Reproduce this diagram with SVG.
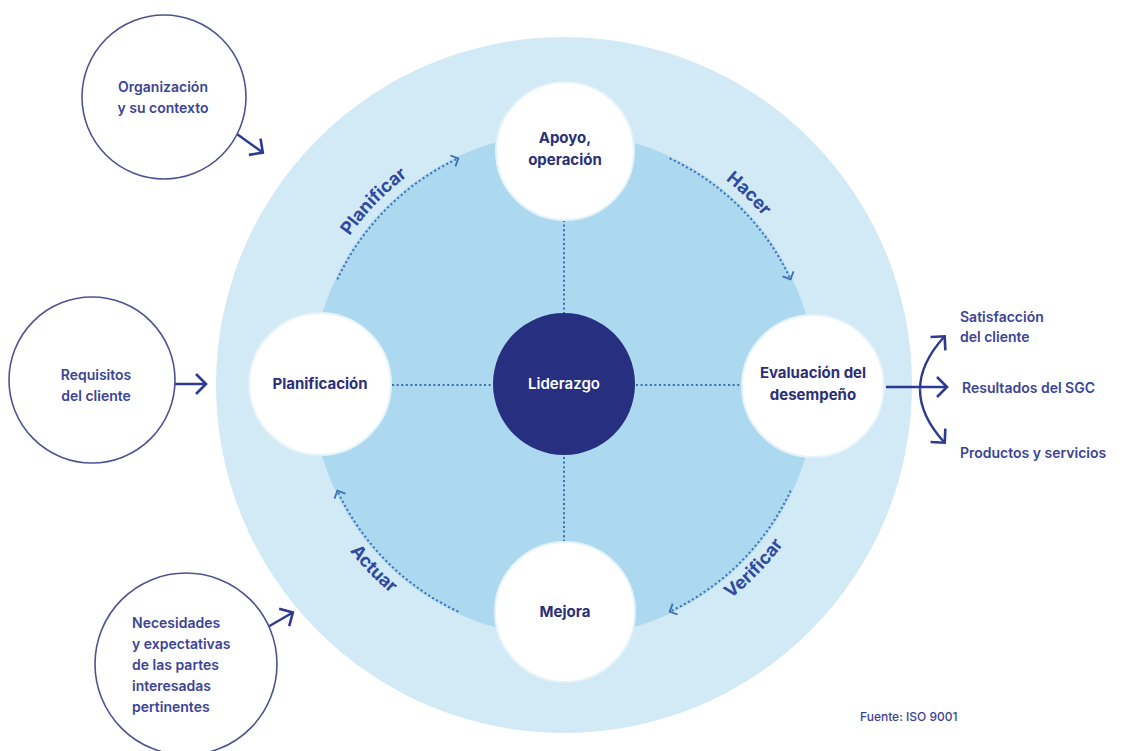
<svg xmlns="http://www.w3.org/2000/svg" width="1129" height="751" viewBox="0 0 1129 751">
<defs>
<style>
.ext{fill:#fff;stroke:#4c5390;stroke-width:1.6}
.node{fill:#fff;stroke:#e4f2fa;stroke-width:2}
.nt{font-family:Inter,"Noto Sans",sans-serif;font-weight:700;font-size:15px;fill:#2b2f78;text-anchor:middle}
.et{font-family:Inter,"Noto Sans",sans-serif;font-weight:600;font-size:14px;fill:#3b4496}
.cyc{font-family:Inter,"Noto Sans",sans-serif;font-weight:700;font-size:18px;fill:#2f4aa0}
.dot{fill:none;stroke:#3c6fb5;stroke-width:2;stroke-dasharray:2 2.6}
.arr{fill:none;stroke:#2c3a8f;stroke-width:2.4}
</style>
<marker id="ch" markerUnits="userSpaceOnUse" markerWidth="20" markerHeight="20" refX="10" refY="10" orient="auto" viewBox="0 0 20 20">
<path d="M4,4 L10,10 L4,16" fill="none" stroke="#3c6fb5" stroke-width="1.8"/>
</marker>
<marker id="ah" markerUnits="userSpaceOnUse" markerWidth="30" markerHeight="30" refX="15" refY="15" orient="auto" viewBox="0 0 30 30">
<path d="M6,5 L16,15 L6,25" fill="none" stroke="#2c3a8f" stroke-width="2.6"/>
</marker>
<path id="pPlan" d="M303.6,366.8 A261,261 0 0 1 536.7,125.4"/>
<path id="pHac" d="M582.2,124.6 A261,261 0 0 1 823.6,357.7"/>
<path id="pVer" d="M592.3,654.5 A271,271 0 0 0 834.3,403.9"/>
<path id="pAct" d="M293.7,403.9 A271,271 0 0 0 535.7,654.5"/>
</defs>
<rect width="1129" height="751" fill="#fff"/>
<g id="background">
<circle cx="564" cy="385" r="348" fill="#d2eaf6"/>
<circle cx="564" cy="385" r="252" fill="#acd9ef"/>
</g>
<g id="connectors">
<line class="dot" x1="392" y1="385" x2="493" y2="385"/>
<line class="dot" x1="636" y1="385" x2="742" y2="385"/>
<line class="dot" x1="564" y1="220" x2="564" y2="313"/>
<line class="dot" x1="564" y1="457" x2="564" y2="542"/>
<path class="dot" d="M337.4,279.3 A250,250 0 0 1 458.3,158.4" marker-end="url(#ch)"/>
<path class="dot" d="M669.7,158.4 A250,250 0 0 1 790.6,279.3" marker-end="url(#ch)"/>
<path class="dot" d="M790.6,490.7 A250,250 0 0 1 669.7,611.6" marker-end="url(#ch)"/>
<path class="dot" d="M458.3,611.6 A250,250 0 0 1 337.4,490.7" marker-end="url(#ch)"/>
<line class="arr" x1="230" y1="129" x2="262" y2="152" marker-end="url(#ah)"/>
<line class="arr" x1="165" y1="384" x2="205" y2="384" marker-end="url(#ah)"/>
<line class="arr" x1="259" y1="632" x2="292" y2="613" marker-end="url(#ah)"/>
<line class="arr" x1="886" y1="387" x2="946" y2="387" marker-end="url(#ah)"/>
<path class="arr" d="M920,389.5 Q920,363.5 944,337" marker-end="url(#ah)"/>
<path class="arr" d="M920,389.5 Q920,415.5 944,442" marker-end="url(#ah)"/>
</g>
<g id="cycle-labels">
<text class="cyc"><textPath href="#pPlan" startOffset="50%" text-anchor="middle">Planificar</textPath></text>
<text class="cyc"><textPath href="#pHac" startOffset="50%" text-anchor="middle">Hacer</textPath></text>
<text class="cyc"><textPath href="#pVer" startOffset="50%" text-anchor="middle">Verificar</textPath></text>
<text class="cyc"><textPath href="#pAct" startOffset="50%" text-anchor="middle">Actuar</textPath></text>
</g>
<g id="node-apoyo">
<circle class="node" cx="565" cy="151" r="69"/>
<text class="nt" x="565" y="143">Apoyo,</text>
<text class="nt" x="565" y="165">operación</text>
</g>
<g id="node-planificacion">
<circle class="node" cx="320" cy="384" r="71"/>
<text class="nt" x="320" y="389">Planificación</text>
</g>
<g id="node-evaluacion">
<circle class="node" cx="813" cy="386" r="71"/>
<text class="nt" x="813" y="378">Evaluación del</text>
<text class="nt" x="813" y="400">desempeño</text>
</g>
<g id="node-mejora">
<circle class="node" cx="565" cy="612" r="70"/>
<text class="nt" x="565" y="617">Mejora</text>
</g>
<g id="node-liderazgo">
<circle cx="564" cy="384" r="71" fill="#262f80"/>
<text class="nt" x="564" y="389" style="fill:#fff;font-weight:600">Liderazgo</text>
</g>
<g id="ext-organizacion">
<circle class="ext" cx="164" cy="97" r="82"/>
<text class="et" x="163" y="92" text-anchor="middle">Organización</text>
<text class="et" x="163" y="113" text-anchor="middle">y su contexto</text>
</g>
<g id="ext-requisitos">
<circle class="ext" cx="92" cy="380" r="83"/>
<text class="et" x="96" y="380" text-anchor="middle">Requisitos</text>
<text class="et" x="96" y="401" text-anchor="middle">del cliente</text>
</g>
<g id="ext-necesidades">
<circle class="ext" cx="186" cy="664" r="91"/>
<text class="et" x="132" y="628">Necesidades</text>
<text class="et" x="132" y="649">y expectativas</text>
<text class="et" x="132" y="670">de las partes</text>
<text class="et" x="132" y="691">interesadas</text>
<text class="et" x="132" y="712">pertinentes</text>
</g>
<g id="outputs">
<text class="et" x="960" y="322">Satisfacción</text>
<text class="et" x="960" y="342">del cliente</text>
<text class="et" x="962" y="393">Resultados del SGC</text>
<text class="et" x="960" y="458">Productos y servicios</text>
</g>
<text x="860" y="721" style="font-family:Inter,'Noto Sans',sans-serif;font-size:12px;font-weight:500;fill:#3b4494">Fuente: ISO 9001</text>
</svg>
